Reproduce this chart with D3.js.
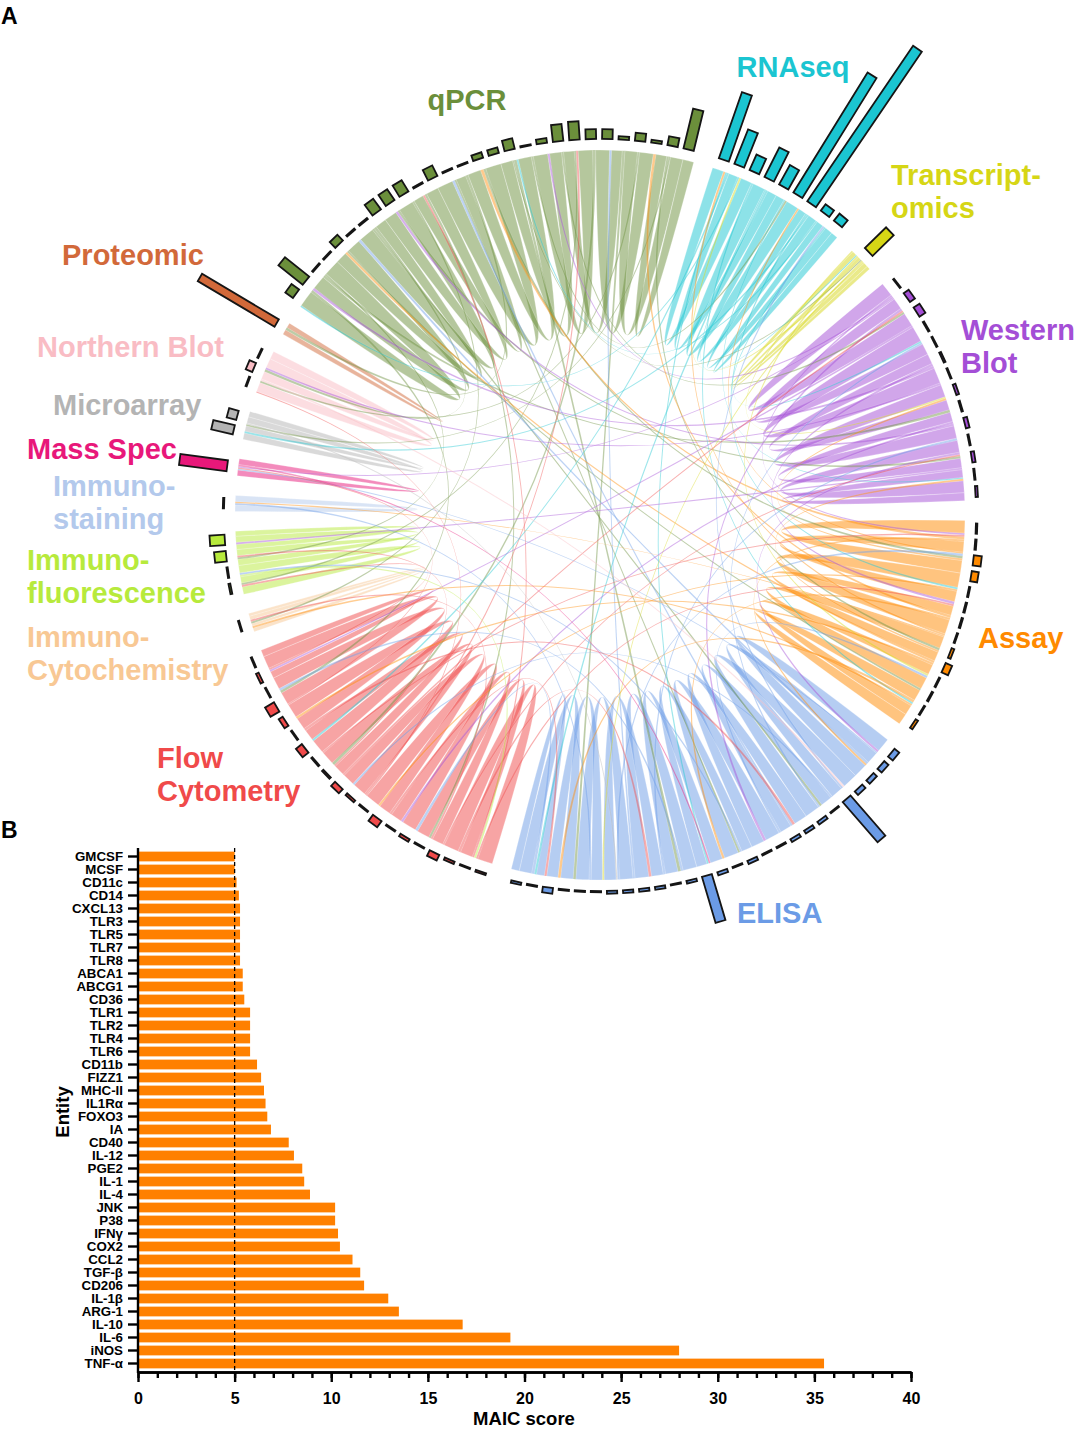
<!DOCTYPE html>
<html>
<head>
<meta charset="utf-8">
<script src="https://cdnjs.cloudflare.com/ajax/libs/d3/7.8.5/d3.min.js"></script>
<style>
body{margin:0;background:#fff;}
text{font-family:"Liberation Sans",Arial,sans-serif;font-weight:bold;}
</style>
</head>
<body>
<script>
// ---- panel A : methods around the circle (clockwise from top-left) ----
var methods = ["qPCR","RNAseq","Transcriptomics","Western Blot","Assay","ELISA","Flow Cytometry",
               "Immuno-Cytochemistry","Immuno-fluorescence","Immuno-staining","Mass Spec","Microarray",
               "Northern Blot","Proteomic"];
var methodLabels = [["qPCR"],["RNAseq"],["Transcript-","omics"],["Western","Blot"],["Assay"],["ELISA"],
                    ["Flow","Cytometry"],["Immuno-","Cytochemistry"],["Immuno-","fluorescence"],
                    ["Immuno-","staining"],["Mass Spec"],["Microarray"],["Northern Blot"],["Proteomic"]];
var methodColors = ["#6b8f3b","#1bc5d1","#d6d615","#a44ed6","#ff8a00","#6b9be6","#f04a4a",
                    "#f8c894","#b7ea3c","#b3c9ec","#e8187a","#b4b4b4","#f9bcc4","#d2693a"];

// links inside one method (weight used at both ends)
var selfLinks = [
  [2.6,2.2,1.8,2.4,2.0,1.6,2.5,2.1,1.9,2.3,1.7,2.2,2.0,1.73],
  [1.8,1.5,2.0,1.4,1.23,1.1],
  [0.7,0.55],
  [2.2,1.8,2.5,1.6,2.0,1.5,1.9,1.25],
  [2.0,1.7,2.3,1.5,1.9,1.6,1.78],
  [2.2,1.9,2.4,1.8,2.1,2.3,1.7,2.0,2.2,1.9,2.1,1.8,2.0,1.28],
  [2.4,2.0,1.8,2.3,1.9,2.1,1.7,2.2,1.9,2.0,1.08],
  [0.6,0.45],
  [1.2,1.0,0.98,0.8],
  [1.0],
  [0.93],
  [1.0,0.88],
  [1.5,1.25],
  [0.8]
];

// links between methods: [from, to, weight] (coloured by "from")
var crossLinks = [
  [0,5,0.45],[0,5,0.35],[0,5,0.4],[0,5,0.3],[0,3,0.4],[0,3,0.3],[0,3,0.35],
  [0,4,0.35],[0,4,0.4],[0,4,0.3],[0,6,0.45],[0,6,0.35],[0,6,0.4],
  [0,1,0.3],[0,12,0.4],[0,12,0.3],[0,13,0.4],[0,8,0.3],[0,8,0.3],[0,7,0.3],[0,11,0.25],[0,2,0.2],
  [5,0,0.4],[5,0,0.3],[5,0,0.35],[3,0,0.4],[3,0,0.3],[3,0,0.35],
  [4,0,0.4],[4,0,0.45],[4,0,0.35],[6,0,0.3],[6,0,0.3],[1,0,0.25],[1,0,0.25],
  [1,5,0.35],[1,5,0.3],[1,4,0.3],[1,4,0.3],[1,3,0.25],[1,3,0.2],[1,6,0.3],[1,11,0.3],[1,2,0.2],
  [4,1,0.3],[4,1,0.25],[2,1,0.3],[5,1,0.3],
  [2,4,0.3],[2,3,0.25],[2,5,0.25],
  [3,5,0.4],[3,5,0.35],[3,4,0.4],[3,4,0.3],[3,6,0.35],[3,6,0.3],[3,8,0.3],[3,12,0.3],[3,10,0.2],
  [5,3,0.35],[5,3,0.3],[4,3,0.3],[4,3,0.3],[6,3,0.3],[6,3,0.25],
  [4,5,0.4],[4,5,0.35],[4,5,0.3],[4,6,0.35],[4,6,0.3],[4,7,0.3],[4,9,0.2],
  [5,4,0.35],[5,4,0.35],[6,4,0.3],[6,4,0.25],
  [5,6,0.4],[5,6,0.35],[5,6,0.3],[5,9,0.3],[5,8,0.3],[5,10,0.2],
  [6,5,0.4],[6,5,0.4],[6,5,0.35],[10,5,0.25],[12,5,0.3],[11,5,0.2],
  [6,8,0.3],[6,8,0.25],[6,7,0.3],[6,10,0.2],[6,12,0.2],[8,6,0.3]
];

// outer bar track, one value per entity, clockwise inside each method
var outerBars = [
  [2,6.6,0,0,1.7,0.3,0.3,2.8,2.8,2.8,0,2.5,0,0,1.2,1.2,2.3,0,1.0,3.6,3.9,2.1,2.1,0.7,1.7,0.6,1.9,8.7],
  [14.9,7.9,3.6,7.0,4.7,30,40,1.7,1.9],
  [6.3],
  [0,1.3,1.5,0.3,0,0.4,0,0.6,0.3,0.8,0.2,0.7,0.2,0.5],
  [0.3,0.3,1.7,1.5,0,0.3,0.3,0,0.6,1.5,0,0.3,0,0.6],
  [1.3,1.2,1.0,1.0,11.3,0,0.7,0.7,0.7,0.3,0,0.7,0,0.7,10.2,0.6,0,0.6,0.6,0.6,0.6,0,0,0,1.2,0,0.5],
  [0.4,0,0.5,1.3,0,0.6,0,1.6,0,0.5,1.2,0.4,0.3,1.6,0,1.0,2.2,0,0.6,0],
  [0],
  [0.4,0,2.5,3.2],
  [0],
  [10.2],
  [4.7,2.1],
  [0,1.5,0],
  [19]
];

// ---- panel B : MAIC scores ----
var maicEntities = ["GMCSF","MCSF","CD11c","CD14","CXCL13","TLR3","TLR5","TLR7","TLR8","ABCA1","ABCG1",
  "CD36","TLR1","TLR2","TLR4","TLR6","CD11b","FIZZ1","MHC-II","IL1R\u03b1","FOXO3","IA","CD40","IL-12",
  "PGE2","IL-1","IL-4","JNK","P38","IFN\u03b3","COX2","CCL2","TGF-\u03b2","CD206","IL-1\u03b2","ARG-1",
  "IL-10","IL-6","iNOS","TNF-\u03b1"];
var maicScores = [5.0,5.0,5.1,5.22,5.28,5.28,5.28,5.28,5.28,5.42,5.42,5.5,5.8,5.8,5.8,5.8,6.16,6.37,
  6.52,6.6,6.69,6.88,7.8,8.07,8.5,8.6,8.9,10.2,10.2,10.35,10.45,11.1,11.5,11.7,12.95,13.5,16.8,19.27,28.0,35.5];
var maicTicks = [0,5,10,15,20,25,30,35,40];
var maicThreshold = 5;

// label placement (layout only)
var labelLayout = [
  {x:467,y:110,a:"middle"},{x:793,y:77,a:"middle"},{x:891,y:185},{x:961,y:340},{x:978,y:648},
  {x:737,y:923},{x:157,y:768},{x:27,y:647},{x:27,y:570},{x:53,y:496},{x:27,y:459},{x:53,y:415},
  {x:37,y:357},{x:62,y:265}
];

var svg = d3.select("body").append("svg").attr("width",1075).attr("height",1429);

var deg = Math.PI/180;
var cx = 600, cy = 515, R = 365, barBase = 376;
var padAngle = 3.1*deg, startAngle = 304.8*deg;
var n = methods.length;

// group sizes from link weights
var totals = methods.map(function(m,i){
  var t = 2*d3.sum(selfLinks[i]);
  crossLinks.forEach(function(l){ if(l[0]===i) t+=l[2]; if(l[1]===i) t+=l[2]; });
  return t;
});
var k = (2*Math.PI - n*padAngle)/d3.sum(totals);
var groups = [];
var a0 = startAngle;
totals.forEach(function(t,i){
  groups.push({index:i, startAngle:a0, endAngle:a0+t*k});
  a0 += t*k + padAngle;
});

// endpoints: self links as overlapping spikes, cross link ends spread along the arc
var ribbons = [];
var slots = methods.map(function(){ return []; });
selfLinks.forEach(function(list,i){
  var L = list.length;
  list.forEach(function(w,j){
    var rb = {source:{}, target:{}, color:i, self:true};
    ribbons.push(rb);
    slots[i].push({pos:(j+0.2)/L, w:w, end:rb.source});
    slots[i].push({pos:Math.min((j+1.9)/L, 0.998), w:w, end:rb.target});
  });
});
var crossBy = methods.map(function(){ return []; });
crossLinks.forEach(function(l){
  var rb = {source:{}, target:{}, color:l[0], self:false};
  ribbons.push(rb);
  crossBy[l[0]].push({w:l[2], end:rb.source});
  crossBy[l[1]].push({w:l[2], end:rb.target});
});
crossBy.forEach(function(list,i){
  list.forEach(function(c,j){
    c.pos = Math.min(0.997, ((j+1)*0.6180339887) % 1);
    slots[i].push(c);
  });
});
slots.forEach(function(list,i){
  list.sort(function(p,q){ return p.pos-q.pos; });
  var a = groups[i].startAngle;
  list.forEach(function(s){ s.end.startAngle = a; a += s.w*k; s.end.endAngle = a; });
});

var ribbon = d3.ribbon().radius(R);
var chordG = svg.append("g").attr("transform","translate("+cx+","+cy+")");

chordG.append("g").selectAll("path")
  .data(ribbons.filter(function(d){ return d.self; }))
  .join("path")
  .attr("d", ribbon)
  .attr("fill", function(d){ return methodColors[d.color]; })
  .attr("fill-opacity", 0.5)
  .attr("stroke", "#fff").attr("stroke-opacity", 0.5).attr("stroke-width", 0.5);

chordG.append("g").selectAll("path")
  .data(ribbons.filter(function(d){ return !d.self; }))
  .join("path")
  .attr("d", ribbon)
  .attr("fill", function(d){ return methodColors[d.color]; })
  .attr("fill-opacity", 0.45)
  .attr("stroke", "#fff").attr("stroke-opacity", 0.3).attr("stroke-width", 0.3);

// outer bars
var barScale = d3.scaleLinear().domain([0,40]).range([0,188]);
outerBars.forEach(function(vals,i){
  var g = groups[i], span = g.endAngle-g.startAngle, step = span/vals.length;
  var wpx = Math.min(step, 2.6*deg)*0.64*barBase;
  chordG.append("g").selectAll("rect").data(vals).join("rect")
    .attr("transform", function(v,j){ return "rotate("+((g.startAngle+(j+0.5)*step)/deg)+")"; })
    .attr("x", -wpx/2)
    .attr("y", function(v){ return -(barBase+Math.max(barScale(v),1.2)); })
    .attr("width", wpx)
    .attr("height", function(v){ return Math.max(barScale(v),1.2); })
    .attr("fill", methodColors[i])
    .attr("stroke", "#151515").attr("stroke-width", 1.8);
});

// method labels
methodLabels.forEach(function(lines,i){
  var L = labelLayout[i];
  var t = svg.append("text").attr("x",L.x).attr("y",L.y)
    .attr("text-anchor",L.a||"start").attr("font-size",29).attr("fill",methodColors[i]);
  lines.forEach(function(s,j){
    t.append("tspan").attr("x",L.x).attr("dy", j===0 ? 0 : 33).text(s);
  });
});

svg.append("text").attr("x",1).attr("y",24).attr("font-size",23).text("A");
svg.append("text").attr("x",1).attr("y",838).attr("font-size",23).text("B");

// ---- panel B ----
var x = d3.scaleLinear().domain([0,40]).range([138,911]);
var y = d3.scaleBand().domain(maicEntities).range([850,1370]).paddingInner(0.25).paddingOuter(0.125);
var axisY = 1372;

svg.append("g").selectAll("rect").data(maicEntities).join("rect")
  .attr("x", x(0)+1)
  .attr("y", function(d){ return y(d); })
  .attr("width", function(d,i){ return x(maicScores[i])-x(0)-1; })
  .attr("height", y.bandwidth())
  .attr("fill", "#ff8000");

svg.append("line")
  .attr("x1", x(maicThreshold)).attr("x2", x(maicThreshold))
  .attr("y1", 848).attr("y2", axisY)
  .attr("stroke", "#000").attr("stroke-width", 1.3).attr("stroke-dasharray", "4,3");

var gx = svg.append("g").attr("transform","translate(0,"+axisY+")");
gx.call(d3.axisBottom(x).tickValues(d3.range(0,41)).tickSize(6).tickSizeOuter(0).tickFormat(""));
gx.append("g").call(d3.axisBottom(x).tickValues(maicTicks).tickSize(10).tickSizeOuter(0).tickPadding(11));
gx.selectAll("path,line").attr("stroke","#000").attr("stroke-width",2.4);
gx.selectAll("text").attr("font-size",16).attr("font-family","Liberation Sans, Arial, sans-serif")
  .attr("font-weight","bold").attr("fill","#000");

var gy = svg.append("g").attr("transform","translate("+x(0)+",0)");
gy.call(d3.axisLeft(y).tickSize(10).tickSizeOuter(0).tickPadding(5));
gy.select(".domain").attr("d","M0,848V"+(axisY+1));
gy.selectAll("path,line").attr("stroke","#000").attr("stroke-width",2.4);
gy.selectAll("text").attr("font-size",13.3).attr("font-family","Liberation Sans, Arial, sans-serif")
  .attr("font-weight","bold").attr("fill","#000");

svg.append("text").attr("x",524).attr("y",1425).attr("text-anchor","middle")
  .attr("font-size",18.5).text("MAIC score");
svg.append("text").attr("transform","translate(69,1112) rotate(-90)").attr("text-anchor","middle")
  .attr("font-size",18.5).text("Entity");
</script>
</body>
</html>
